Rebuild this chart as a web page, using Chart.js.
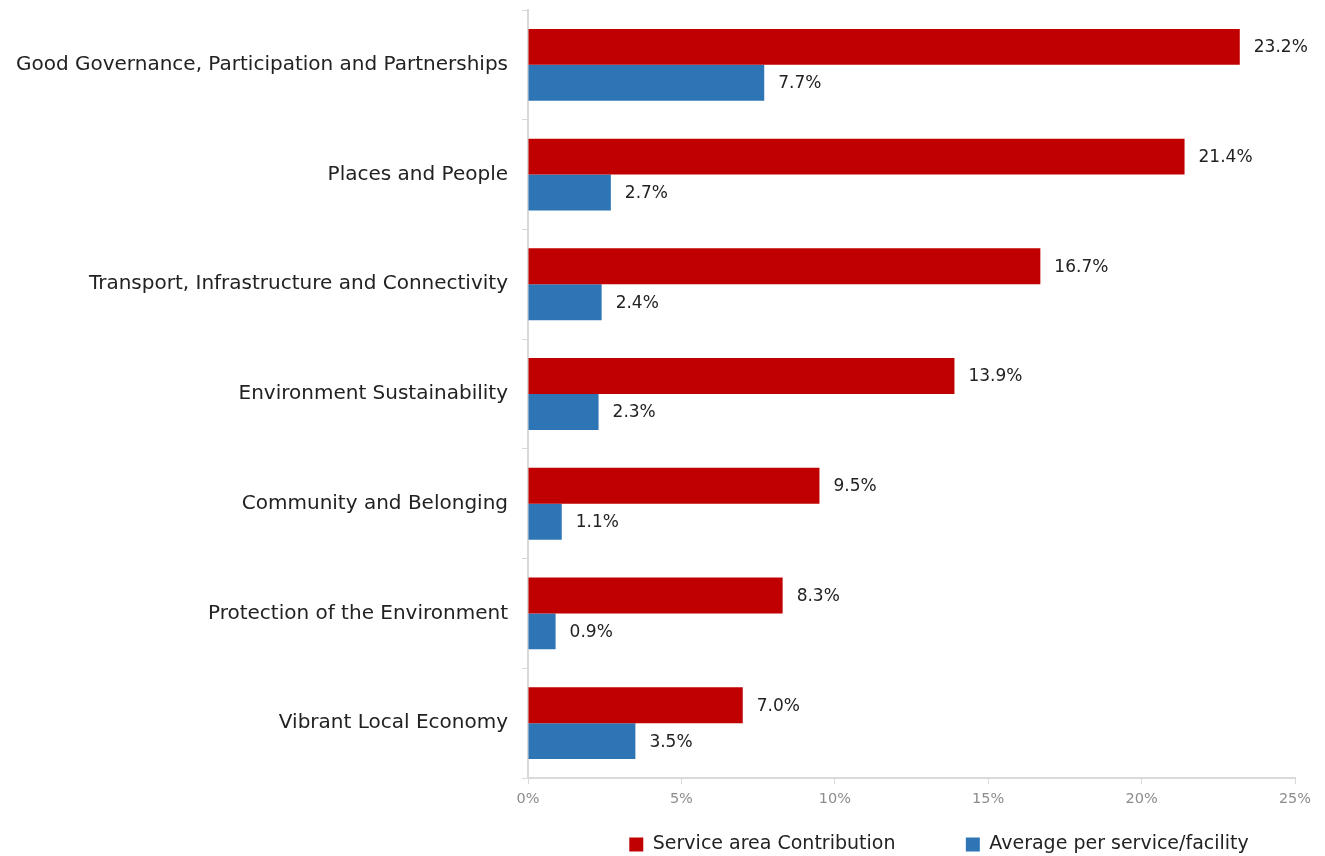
<!DOCTYPE html>
<html>
<head>
<meta charset="utf-8">
<script src="https://cdn.jsdelivr.net/npm/chart.js@4"></script>
<style>
  html, body { margin: 0; padding: 0; background: #fff; }
  #wrap { width: 1325px; height: 856px; position: relative; }
</style>
</head>
<body>
<div id="wrap"><canvas id="serviceChart"></canvas></div>
<script>
const categories = [
    'Good Governance, Participation and Partnerships',
    'Places and People',
    'Transport, Infrastructure and Connectivity',
    'Environment Sustainability',
    'Community and Belonging',
    'Protection of the Environment',
    'Vibrant Local Economy'
];
const serviceAreaContribution = [23.2, 21.4, 16.7, 13.9, 9.5, 8.3, 7.0];
const averagePerService = [7.7, 2.7, 2.4, 2.3, 1.1, 0.9, 3.5];
const xTicks = [0, 5, 10, 15, 20, 25];

const FONT = "'DejaVu Sans', sans-serif";
const AXIS_GREY = '#d9d9d9';
const TEXT = '#222222';

// writes "x.x%" just past the end of every bar
const barValueLabels = {
    id: 'barValueLabels',
    afterDatasetsDraw(chart) {
        const ctx = chart.ctx;
        ctx.save();
        ctx.font = '17px ' + FONT;
        ctx.fillStyle = TEXT;
        ctx.textBaseline = 'middle';
        ctx.textAlign = 'left';
        chart.data.datasets.forEach((ds, i) => {
            chart.getDatasetMeta(i).data.forEach((bar, j) => {
                ctx.fillText(ds.data[j].toFixed(1) + '%', bar.x + 14, bar.y + 1);
            });
        });
        ctx.restore();
    }
};

// legend entries get trailing spaces so the two items sit further apart
const legendGap = ['          ', '      '];

new Chart(document.getElementById('serviceChart'), {
    type: 'bar',
    data: {
        labels: categories,
        datasets: [
            {
                label: 'Service area Contribution',
                data: serviceAreaContribution,
                backgroundColor: '#c00000',
                categoryPercentage: 0.655,
                barPercentage: 1.0
            },
            {
                label: 'Average per service/facility',
                data: averagePerService,
                backgroundColor: '#2e75b6',
                categoryPercentage: 0.655,
                barPercentage: 1.0
            }
        ]
    },
    options: {
        indexAxis: 'y',
        responsive: true,
        maintainAspectRatio: false,
        animation: false,
        layout: { padding: { top: 10, right: 30, left: 0, bottom: -8 } },
        plugins: {
            legend: {
                position: 'bottom',
                align: 'end',
                fullSize: false,
                labels: {
                    boxWidth: 14,
                    boxHeight: 14,
                    padding: 10,
                    color: TEXT,
                    font: { family: FONT, size: 19 },
                    generateLabels(chart) {
                        const items = Chart.defaults.plugins.legend.labels.generateLabels(chart);
                        items.forEach((it, i) => { it.text = it.text + legendGap[i]; });
                        return items;
                    }
                }
            },
            tooltip: { enabled: false }
        },
        scales: {
            x: {
                min: 0,
                max: 25,
                afterBuildTicks(scale) {
                    scale.ticks = xTicks.map(v => ({ value: v }));
                },
                afterFit(scale) { scale.height = 47; },
                ticks: {
                    color: '#8c8c8c',
                    padding: 7,
                    font: { family: FONT, size: 14.5 },
                    callback: v => v + '%'
                },
                grid: {
                    drawOnChartArea: false,
                    drawTicks: true,
                    tickLength: 6,
                    color: AXIS_GREY
                },
                border: { color: AXIS_GREY, width: 2 }
            },
            y: {
                afterFit(scale) {
                    scale.width = 528;
                    scale.paddingTop = 0;
                    scale.paddingBottom = 0;
                },
                ticks: {
                    color: TEXT,
                    padding: 14,
                    font: { family: FONT, size: 20 }
                },
                grid: {
                    offset: true,
                    drawOnChartArea: false,
                    drawTicks: true,
                    tickLength: 6,
                    color: AXIS_GREY
                },
                border: { color: AXIS_GREY, width: 2 }
            }
        }
    },
    plugins: [barValueLabels]
});
</script>
</body>
</html>
